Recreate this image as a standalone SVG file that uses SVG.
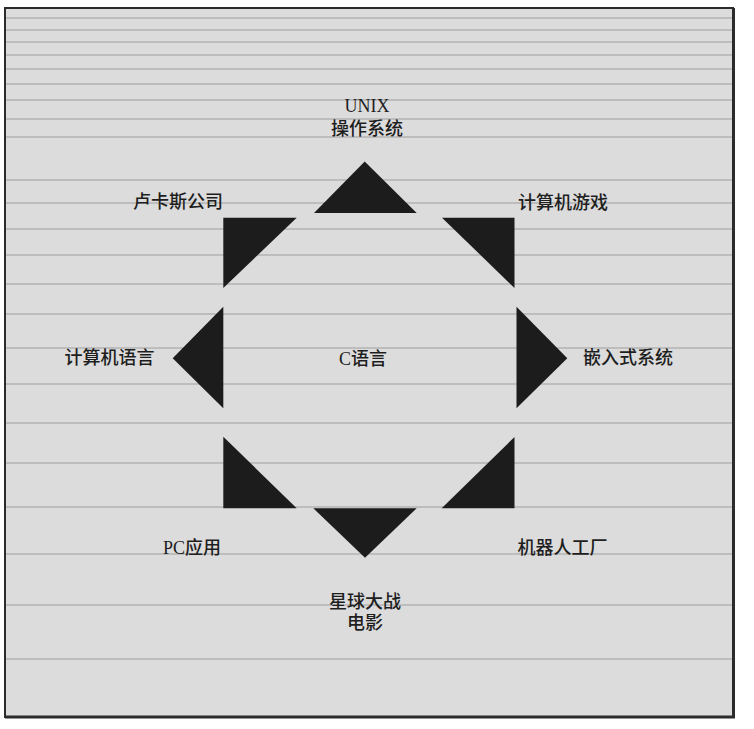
<svg xmlns="http://www.w3.org/2000/svg" width="754" height="729" viewBox="0 0 754 729">
<style>
.bg{fill:#dcdcdc;stroke:none}
.rule{stroke:#b3b3b3;stroke-width:1.6;fill:none}
.frame{fill:none;stroke:#2b2b2b;stroke-width:2}
.tri{fill:#1c1c1c;stroke:none}
.lbl{font-family:"Liberation Serif","Noto Sans CJK SC",serif;font-size:18px;font-weight:500;fill:#1e1e1e}
.mid{text-anchor:middle}
</style>
<rect x="0" y="0" width="754" height="729" fill="#ffffff"/>
<rect class="bg" x="5" y="8" width="728" height="709"/>
<g id="rules">
<path class="rule" d="M5 18H733M5 30H733M5 42H733M5 55H733M5 69H733M5 84H733M5 100H733M5 119H733M5 137H733M5 180H733M5 203H733M5 229H733M5 255H733M5 284H733M5 314H733M5 348H733M5 384H733M5 423H733M5 463H733M5 507H733M5 554H733M5 605H733M5 659H733"/>
</g>
<rect class="frame" x="5" y="8" width="728" height="709"/>
<path d="M5 717H733.5V8" fill="none" stroke="#2b2b2b" stroke-width="3"/>
<g id="connectors">
<polygon class="tri" points="364.7,161.5 314,213 416.7,213"/>
<polygon class="tri" points="223.3,217.7 296.7,217.7 223.3,288"/>
<polygon class="tri" points="442,217.7 514.5,217.7 514.5,288"/>
<polygon class="tri" points="223.3,306.7 223.3,408.3 172.7,358.3"/>
<polygon class="tri" points="516.5,306.7 516.5,408.3 567.3,358.3"/>
<polygon class="tri" points="223.3,436.7 223.3,508.3 296.7,508.3"/>
<polygon class="tri" points="514.5,437 514.5,508.3 441.7,508.3"/>
<polygon class="tri" points="313.3,508.3 416.7,508.3 365,557.7"/>
</g>
<g id="center"><text class="lbl mid" x="363" y="364.5">C语言</text></g>
<g id="unix"><text class="lbl mid" x="367" y="111.5">UNIX</text><text class="lbl mid" x="367" y="134.5">操作系统</text></g>
<g id="lucas"><text class="lbl" x="223" y="207.5" text-anchor="end">卢卡斯公司</text></g>
<g id="games"><text class="lbl" x="518" y="208.5">计算机游戏</text></g>
<g id="languages"><text class="lbl" x="154.5" y="363.5" text-anchor="end">计算机语言</text></g>
<g id="embedded"><text class="lbl" x="583" y="363.5">嵌入式系统</text></g>
<g id="pc"><text class="lbl" x="221" y="554" text-anchor="end">PC应用</text></g>
<g id="robot"><text class="lbl" x="517.5" y="554">机器人工厂</text></g>
<g id="starwars"><text class="lbl mid" x="365" y="607.5">星球大战</text><text class="lbl mid" x="365" y="629">电影</text></g>
</svg>
